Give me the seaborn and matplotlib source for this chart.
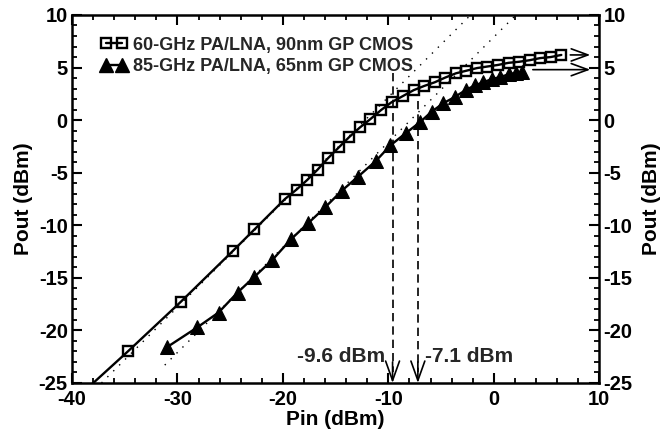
import matplotlib
matplotlib.use("Agg")
import matplotlib.pyplot as plt
from matplotlib.ticker import MultipleLocator
from matplotlib.lines import Line2D
import seaborn as sns
import pandas as pd

# 60-GHz PA/LNA (90nm) measured points; first point is where the line leaves the frame
pin_60 = [-38.2, -34.7, -29.7, -24.7, -22.7, -19.8, -18.7, -17.7, -16.7, -15.7, -14.7,
          -13.7, -12.7, -11.7, -10.7, -9.7, -8.6, -7.6, -6.6, -5.6, -4.6, -3.6, -2.6,
          -1.6, -0.6, 0.4, 1.4, 2.4, 3.4, 4.4, 5.4, 6.4]
pout_60 = [-25.2, -22.0, -17.3, -12.4, -10.4, -7.5, -6.6, -5.7, -4.7, -3.6, -2.6,
           -1.6, -0.7, 0.1, 0.95, 1.7, 2.3, 2.85, 3.25, 3.6, 4.05, 4.45, 4.7,
           4.95, 5.1, 5.25, 5.45, 5.55, 5.7, 5.9, 6.0, 6.2]

# 85-GHz PA/LNA (65nm) measured points
pin_85 = [-31.0, -28.1, -26.1, -24.3, -22.7, -21.0, -19.2, -17.6, -16.0, -14.4, -12.9,
          -11.2, -9.8, -8.3, -7.0, -5.9, -4.8, -3.7, -2.6, -1.8, -1.0, -0.2, 0.6,
          1.4, 2.1, 2.7]
pout_85 = [-21.6, -19.7, -18.3, -16.4, -14.9, -13.3, -11.3, -9.8, -8.3, -6.7, -5.4,
           -3.9, -2.4, -1.2, -0.2, 0.8, 1.6, 2.2, 2.9, 3.3, 3.6, 3.9, 4.1,
           4.35, 4.5, 4.6]

# ideal linear-gain (dotted) extrapolations, end points
lin_60_x = [-37.2, -2.2]
lin_60_y = [-25.0, 10.0]
lin_85_x = [-31.2, 2.1]
lin_85_y = [-23.3, 10.0]

# input compression points
p1db = [-9.6, -7.2]
p1db_top = [4.5, 1.8]
p1db_labels = ["-9.6 dBm", "-7.1 dBm"]

# saturated output arrows to the right axis
sat_x_start = [7.25, 3.7]
sat_y = [6.2, 4.8]

labels = ["60-GHz PA/LNA, 90nm GP CMOS", "85-GHz PA/LNA, 65nm GP CMOS"]

sns.set_theme(style="ticks")
plt.rcParams["font.family"] = ["Liberation Sans", "DejaVu Sans"]
plt.rcParams["font.weight"] = "bold"
plt.rcParams["axes.unicode_minus"] = False

fig = plt.figure(figsize=(6.6, 4.38), dpi=100)
ax = fig.add_axes([0.109, 0.1256, 0.799, 0.8402])

df60 = pd.DataFrame({"pin": pin_60, "pout": pout_60})
df85 = pd.DataFrame({"pin": pin_85, "pout": pout_85})

sns.lineplot(data=df60, x="pin", y="pout", ax=ax, color="black", lw=1.7,
             marker="s", markersize=7.5, markerfacecolor="none", markeredgecolor="black",
             markeredgewidth=1.7, markevery=list(range(1, len(pin_60))), sort=False,
             zorder=4)
sns.lineplot(data=df85, x="pin", y="pout", ax=ax, color="black", lw=1.7,
             marker="^", markersize=10.5, markerfacecolor="black", markeredgecolor="black",
             sort=False, zorder=4)

ax.plot(lin_60_x, lin_60_y, color="black", lw=1.0, ls=(0, (1, 5)))
ax.plot(lin_85_x, lin_85_y, color="black", lw=1.0, ls=(0, (1, 5)))

for x, top in zip(p1db, p1db_top):
    ax.plot([x, x], [top, -24.0], color="black", lw=1.2, ls=(0, (5, 3)))
    ax.annotate("", xy=(x, -25.0), xytext=(x, -23.0),
                arrowprops=dict(arrowstyle="->,head_length=0.7,head_width=0.25",
                                lw=1.2, color="black", mutation_scale=20,
                                shrinkA=0, shrinkB=0))
ax.text(p1db[0] - 0.7, -22.5, p1db_labels[0], ha="right", va="center",
        fontsize=15, fontweight="bold")
ax.text(p1db[1] + 0.7, -22.5, p1db_labels[1], ha="left", va="center",
        fontsize=15, fontweight="bold")

for xs, y in zip(sat_x_start, sat_y):
    ax.annotate("", xy=(9.15, y), xytext=(xs, y),
                arrowprops=dict(arrowstyle="->,head_length=0.6,head_width=0.22",
                                lw=1.2, color="black", mutation_scale=20,
                                shrinkA=0, shrinkB=0))

ax.set_xlim(-40, 10)
ax.set_ylim(-25, 10)
ax.xaxis.set_major_locator(MultipleLocator(10))
ax.xaxis.set_minor_locator(MultipleLocator(2))
ax.yaxis.set_major_locator(MultipleLocator(5))
ax.yaxis.set_minor_locator(MultipleLocator(1))
ax.tick_params(which="both", direction="in", top=True, right=True, labelright=True,
               color="black", labelsize=14.5, labelcolor="black")
ax.tick_params(which="major", length=7, width=1.5)
ax.tick_params(which="minor", length=3.5, width=1.3)
ax.tick_params(axis="x", pad=5)
ax.tick_params(axis="y", pad=3)
for lab in ax.get_xticklabels() + ax.get_yticklabels():
    lab.set_fontweight("bold")
for sp in ax.spines.values():
    sp.set_linewidth(1.8)
    sp.set_color("black")

ax.set_xlabel("Pin (dBm)", fontsize=15, fontweight="bold", color="black", labelpad=1)
ax.set_ylabel("Pout (dBm)", fontsize=15, fontweight="bold", color="black", labelpad=4)
ax2 = ax.secondary_yaxis("right")
ax2.set_yticks([])
ax2.tick_params(length=0)
ax2.spines["right"].set_visible(False)
ax2.set_ylabel("Pout (dBm)", fontsize=15, fontweight="bold", color="black", labelpad=31)

handles = [
    Line2D([], [], color="black", lw=1.7, marker="s", markersize=7.5,
           markerfacecolor="none", markeredgewidth=1.7),
    Line2D([], [], color="black", lw=1.7, marker="^", markersize=10.5,
           markerfacecolor="black"),
]
leg = ax.legend(handles, labels, loc="upper left", numpoints=2, frameon=False,
                handlelength=1.5, handletextpad=0.3, labelspacing=0.25,
                borderaxespad=0.3, bbox_to_anchor=(0.03, 0.975),
                prop={"size": 13, "weight": "bold"})

fig.savefig("out.png", dpi=100)
